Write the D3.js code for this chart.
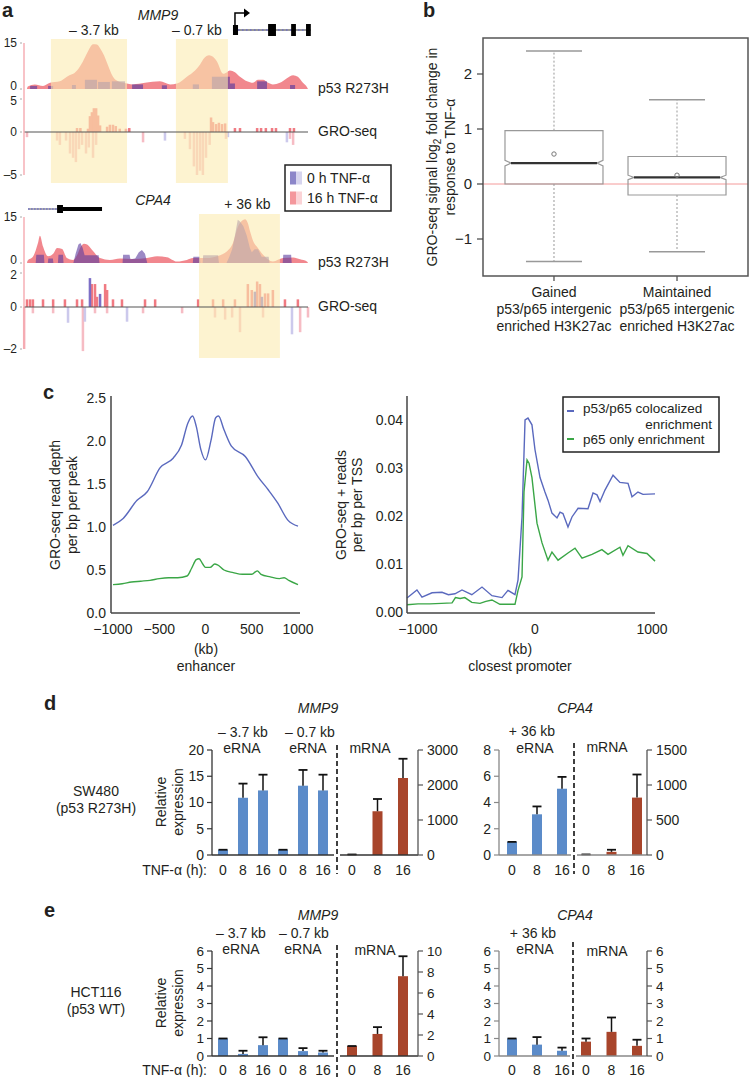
<!DOCTYPE html>
<html><head><meta charset="utf-8">
<script src="https://cdn.jsdelivr.net/npm/d3@7"></script>
<style>
body{margin:0;background:#fff}
svg{display:block}
text{font-family:"Liberation Sans",Arial,Helvetica,sans-serif;}
</style>
</head><body>
<svg id="fig" width="749" height="1077"></svg>
<script>
// ================= DATA =================
// ---- Panel a (genomic bins 0-100 across each browser window) ----
const mmp9P53_16h = [[0,0],[0.3,0.8],[2.8,1.5],[5.7,1.0],[8.2,2.0],[11.7,2.5],[14.2,4.0],[17.8,6.0],[19.9,9],[21.4,11.7],[23.5,14.6],[24.9,14.5],[26,13.3],[27.4,11],[28.5,8.5],[30.6,4.0],[32.4,2.5],[34.2,2.0],[37.7,1.5],[42,2.0],[47.3,2.5],[50.9,1.5],[53.4,1.8],[56.9,4],[59.8,6],[61.6,8],[63,10],[64.8,11],[66.2,10.5],[67.6,9],[69.8,5],[71.2,5.5],[72.2,6],[74,5.5],[75.8,4],[78.3,2.5],[80.4,2],[82.2,3],[84,3],[85.8,2],[87.5,1.5],[90,2],[92.5,3.5],[94.7,4.5],[96.4,4],[98.2,2],[99.7,0.5],[100,0]];
const mmp9P53_0h = [[1.1,3.6,1.0],[7.5,9.3,1.0],[16,17.4,1.3],[20.6,24.9,3.0],[25.3,29.5,2.3],[30.2,34.9,2.5],[37.4,41.3,1.5],[48,49.8,1.2],[59,61.2,1.5],[65.8,72.2,4.0],[72.2,74,1.8],[81.9,85.4,2.5],[93.6,95.4,1.3]];
const mmp9Gro_16h = [[17.8,0.6],[19,0.6],[21.7,0.5],[22.4,2.4],[23.1,3.0],[23.8,3.6],[24.6,3.6],[25.3,2.5],[26,1.0],[28.5,0.8],[29.5,1.1],[30.6,1.1],[31.6,0.9],[33,0.5],[35.2,0.5],[36.4,0.6],[65.5,2.2],[66.2,1.5],[67.3,1.2],[68.3,1.4],[69.4,1.2],[70.5,1.3],[74,0.6],[75.8,0.6],[81.9,0.6],[83.3,0.6],[85,0.6],[87.2,0.6],[88.6,0.6],[93.6,0.6],[95,0.6],
  [0,-0.6],[10.7,-1.0],[11.7,-1.5],[13.9,-1.0],[15.3,-2.5],[16.4,-3.0],[17.4,-3.5],[18.5,-2.0],[19.6,-1.5],[21,-2.5],[22,-1.8],[23.5,-3.0],[24.6,-1.5],[41.3,-1.2],[56.2,-0.8],[58,-2.0],[59.4,-4.0],[60.5,-5.0],[61.6,-4.5],[62.6,-5.0],[63.7,-3.0],[65,-1.5],[70.8,-0.8],[93.6,-0.8],[94.7,-1.5]];
const mmp9Gro_0h = [[49.1,-1.0],[71.5,-0.6],[92.5,-1.2]];
const mmp9Regions = [{label:"\u2013 3.7 kb", start:8.5, end:35.6},{label:"\u2013 0.7 kb", start:53, end:71.5}];
const mmp9Exons = [[73.3,75.1],[85.8,88.6],[94,95.7],[99.3,101]];

const cpa4P53_16h = [[0,0],[0.2,0.7],[2.1,2],[3.9,6.5],[4.6,8.9],[5.7,5.4],[7.5,2.2],[9.3,3.0],[10.7,4.9],[12.5,4.6],[14.2,1.6],[16.4,1.0],[17.8,2.5],[18.9,4.9],[20.3,6.3],[21.4,6.0],[23.1,4.3],[26,1.6],[29.5,1.0],[33.1,1.5],[37.7,1.3],[42.7,1.6],[46.3,2.2],[49.8,1.9],[53.4,0.5],[56.9,1.0],[59.1,1.6],[64.1,1.6],[67.6,2.2],[71.2,3.8],[73.3,6.5],[75.1,11.9],[76.5,13.8],[77.6,14.3],[78.6,13],[79.4,10.3],[80.8,6.5],[81.9,5.2],[84,2.7],[87.5,0.5],[91.1,1.6],[94.7,1.8],[97.2,1.2],[99.6,0.5],[100,0]];
const cpa4P53_0h = [[0,0],[3.1,0],[3.3,2.7],[6.0,2.7],[6.2,0],[7.4,0],[7.6,1.5],[9.2,1.5],[9.4,0],[11,0],[11.2,2.7],[12.8,2.7],[13,0],[16.5,0],[17.3,3],[18.3,6],[19,6.5],[19.8,5],[20.5,2.5],[25.5,2.5],[25.8,0],[34,0],[34.2,2.7],[36.5,2.7],[36.8,1.2],[38.5,1.5],[39.8,3.5],[40.9,4.2],[42,3],[42.8,0],[59,0],[59.2,2],[61.5,2],[61.7,0],[62.5,0],[62.7,2.5],[68,2.5],[68.3,0],[71,0],[72,2],[73,4.5],[74,9],[75,14.1],[75.8,13.5],[77,12],[78.2,9],[79.3,5],[80,3.5],[81,4.5],[82.2,4.5],[83,3],[83.5,2],[86,2],[86.3,0],[91,0],[91.2,2.7],[94,2.7],[94.2,0],[100,0]];
const cpa4Gro_16h = [[0,0.45],[1.1,0.45],[2.1,0.45],[5.7,0.45],[9.3,0.45],[13.5,0.45],[17.8,0.45],[19.6,0.45],[23.1,1.35],[24.2,1.35],[24.9,0.6],[27.8,1.35],[28.5,1.0],[30.6,0.45],[33.8,0.45],[42,0.45],[45.6,0.45],[60.9,0.45],[66.2,0.45],[69.8,0.45],[74,0.45],[78.6,1.35],[80,1.0],[81.9,1.5],[82.9,1.35],[84.7,0.8],[85.8,0.8],[87.5,1.0],[91.8,0.45],[96.4,0.45],
  [-1,-2.0],[19.9,-2.1],[2.1,-0.3],[9.3,-0.3],[24.2,-0.3],[28.5,-0.3],[41.3,-0.3],[55.2,-0.3],[66.9,-0.5],[70.5,-0.6],[73,-0.5],[75.8,-1.2],[84,-0.5],[97.2,-1.2],[100,-0.5]];
const cpa4Gro_0h = [[22.4,1.7],[26,0.77],[81.1,0.9],[83.6,0.6],[14.6,-0.75],[20.6,-0.7],[35.6,-0.7],[94.3,-1.3]];
const cpa4Regions = [{label:"+ 36 kb", start:61.2, end:90}];
const cpa4Gene = {dotted:[0.4,10.7], box:[10.7,12.8], thick:[12.8,26.7]};
const legendA = ["0 h TNF-\u03b1","16 h TNF-\u03b1"];

// ---- Panel b (box plot) ----
const boxCats = ["Gained","Maintained"];
const boxCatLine2 = "p53/p65 intergenic", boxCatLine3 = "enriched H3K27ac";
const boxMin = [-1.41,-1.23], boxQ1 = [0.0,-0.2], boxMed = [0.38,0.12], boxQ3 = [0.97,0.5], boxMax = [2.42,1.53];
const boxMean = [0.545,0.16], boxNotchLo = [0.33,0.08], boxNotchHi = [0.43,0.16];
const boxTicks = [-1,0,1,2];

// ---- Panel c ----
const enhKb = [-1000,-890,-740,-630,-490,-350,-260,-190,-140,-100,-50,0,60,110,140,200,280,430,570,680,780,890,1000];
const enhColoc = [1.02,1.10,1.31,1.41,1.69,1.80,1.95,2.21,2.29,2.17,1.90,1.78,2.01,2.27,2.29,2.13,1.94,1.82,1.58,1.43,1.28,1.08,1.01];
const enhKb2 = [-1000,-900,-800,-700,-600,-500,-400,-300,-200,-150,-100,-70,-30,0,50,100,130,200,300,400,500,560,600,700,800,850,900,1000];
const enhP65 = [0.33,0.34,0.36,0.37,0.38,0.40,0.41,0.41,0.43,0.52,0.62,0.63,0.57,0.53,0.53,0.57,0.56,0.50,0.47,0.45,0.45,0.49,0.45,0.42,0.40,0.41,0.38,0.33];
const proKbB = [-1094,-1009,-966,-880,-795,-740,-684,-624,-540,-453,-368,-282,-231,-171,-145,-111,-85,-60,-26,0,43,85,111,145,188,214,239,282,316,368,453,496,530,556,598,667,726,795,829,880,923,1026];
const proColoc = [0.0029,0.0046,0.0031,0.0040,0.0041,0.0036,0.0038,0.0046,0.0036,0.0052,0.0034,0.0030,0.0045,0.0036,0.0067,0.0198,0.0400,0.0404,0.0390,0.0338,0.0280,0.0250,0.0233,0.0206,0.0196,0.0208,0.0205,0.0177,0.0198,0.0216,0.0215,0.0248,0.0244,0.0230,0.0254,0.0285,0.0270,0.0268,0.0240,0.0250,0.0245,0.0246];
const proKbG = [-1094,-1000,-900,-800,-709,-680,-640,-600,-540,-470,-420,-368,-300,-230,-171,-145,-111,-94,-68,-51,-26,17,60,111,145,197,282,342,402,487,572,624,726,752,795,880,957,1026];
const proP65 = [0.0015,0.0017,0.0017,0.0018,0.0019,0.0030,0.0028,0.0030,0.0020,0.0018,0.0022,0.0025,0.0016,0.0016,0.0016,0.0045,0.0073,0.0250,0.0317,0.0310,0.0280,0.0185,0.0144,0.0108,0.0125,0.0108,0.0123,0.0133,0.0112,0.0120,0.0130,0.0120,0.0135,0.0118,0.0138,0.0125,0.0122,0.0106];
const enhTicksX = [-1000,-500,0,500,1000], enhTicksY = [0,0.5,1.0,1.5,2.0,2.5];
const proTicksX = [-1000,0,1000], proTicksY = [0,0.01,0.02,0.03,0.04];

// ---- Panels d / e (qRT-PCR) ----
const timeLabels = ["0","8","16"];
const dMMP9_e37 = [1.0,10.9,12.3],  dMMP9_e37_err = [1.0,13.6,15.3];
const dMMP9_e07 = [1.0,13.2,12.3],  dMMP9_e07_err = [1.0,16.2,15.3];
const dMMP9_m   = [15,1250,2200],   dMMP9_m_err   = [15,1600,2750];
const dCPA4_e   = [1.0,3.1,5.05],   dCPA4_e_err   = [1.0,3.7,5.95];
const dCPA4_m   = [8,45,820],       dCPA4_m_err   = [8,75,1150];
const eMMP9_e37 = [1.0,0.12,0.62],  eMMP9_e37_err = [1.0,0.3,1.07];
const eMMP9_e07 = [1.0,0.28,0.2],   eMMP9_e07_err = [1.0,0.45,0.3];
const eMMP9_m   = [0.95,2.1,7.6],   eMMP9_m_err   = [0.95,2.75,9.5];
const eCPA4_e   = [1.0,0.65,0.3],   eCPA4_e_err   = [1.0,1.08,0.48];
const eCPA4_m   = [0.82,1.38,0.58], eCPA4_m_err   = [1.0,2.2,0.93];
const dTicksMMP9L = [0,5,10,15,20], dTicksMMP9R = [0,1000,2000,3000];
const dTicksCPA4L = [0,2,4,6,8], dTicksCPA4R = [0,500,1000,1500];
const eTicksMMP9L = [0,1,2,3,4,5,6], eTicksMMP9R = [0,2,4,6,8,10];
const eTicksCPA4L = [0,1,2,3,4,5,6], eTicksCPA4R = [0,1,2,3,4,5,6];

// ================= DRAWING =================
const svg = d3.select('#fig');
const INK = '#231f20';
function T(g, x, y, s, o = {}) {
  const t = g.append('text').attr('x', x).attr('y', y).attr('dy', '0.35em')
    .attr('font-size', o.fs || 14).attr('text-anchor', o.anchor || 'start')
    .attr('fill', o.fill || INK).text(s);
  if (o.italic) t.attr('font-style', 'italic');
  if (o.bold) t.attr('font-weight', 'bold');
  return t;
}
function line(g, x1, y1, x2, y2, stroke, w, dash) {
  const l = g.append('line').attr('x1', x1).attr('y1', y1).attr('x2', x2).attr('y2', y2)
    .attr('stroke', stroke).attr('stroke-width', w || 1);
  if (dash) l.attr('stroke-dasharray', dash);
  return l;
}

// ---------- Panel a ----------
const gA = svg.append('g');
T(gA, 2, 10, 'a', {fs: 20, bold: true});
const ax = d3.scaleLinear().domain([0, 100]).range([27, 308]);
const binW = ax(1) - ax(0);
const PINK = '#f07a82', PURPLE = '#5a3a9e';

function drawBrowser(g, cfg) {
  const yP = d3.scaleLinear().domain([0, 15]).range([cfg.p53Base, cfg.p53Top]);
  const yG = d3.scaleLinear().domain(cfg.groDom).range(cfg.groRange);
  const area = d3.area().x(d => ax(d[0])).y0(cfg.p53Base).y1(d => yP(d[1]));
  g.append('path').datum(cfg.p16).attr('d', area.curve(d3.curveMonotoneX)).attr('fill', PINK).attr('fill-opacity', 0.9);
  if (cfg.p0blocks) {
    g.selectAll(null).data(cfg.p0blocks).enter().append('rect')
      .attr('x', d => ax(d[0])).attr('width', d => ax(d[1]) - ax(d[0]))
      .attr('y', d => yP(d[2])).attr('height', d => cfg.p53Base - yP(d[2]))
      .attr('fill', PURPLE).attr('fill-opacity', 0.65);
  } else {
    g.append('path').datum(cfg.p0).attr('d', d3.area().x(d => ax(d[0])).y0(cfg.p53Base).y1(d => yP(d[1])).curve(d3.curveLinear))
      .attr('fill', PURPLE).attr('fill-opacity', 0.6);
  }
  const z = yG(0);
  g.selectAll(null).data(cfg.g16).enter().append('rect')
    .attr('x', d => ax(d[0]) - binW * 0.45).attr('width', binW * 0.9)
    .attr('y', d => Math.min(z, yG(d[1]))).attr('height', d => Math.abs(yG(d[1]) - z))
    .attr('fill', d => d[1] > 0 ? PINK : '#f6bcc4');
  g.selectAll(null).data(cfg.g0).enter().append('rect')
    .attr('x', d => ax(d[0]) - binW * 0.45).attr('width', binW * 0.9)
    .attr('y', d => Math.min(z, yG(d[1]))).attr('height', d => Math.abs(yG(d[1]) - z))
    .attr('fill', d => d[1] > 0 ? '#6f5fc0' : '#c7c3ea').attr('fill-opacity', 0.9);
  // highlight overlays
  cfg.regions.forEach(r => {
    g.append('rect').attr('x', ax(r.start)).attr('width', ax(r.end) - ax(r.start))
      .attr('y', cfg.hl[0]).attr('height', cfg.hl[1] - cfg.hl[0])
      .attr('fill', 'rgb(252,235,177)').attr('fill-opacity', 0.6);
    T(g, ax(r.start) + (ax(r.end) - ax(r.start)) / 2 + (r.dx || 0), cfg.labY, r.label, {anchor: 'middle'});
  });
  line(g, ax(-1), z, ax(100), z, '#555', 1.2);
  // axis
  line(g, 24, cfg.p53Top, 24, cfg.groRange[0], '#f4a3aa', 1.3);
  const ticks = [[15, yP(15), yP(15)], [0, yP(0), yP(0) - 3], [cfg.groDom[2], yG(cfg.groDom[2]), yG(cfg.groDom[2]) + 2], [0, z, z], [cfg.groDom[0], yG(cfg.groDom[0]), yG(cfg.groDom[0])]];
  ticks.forEach(t => {
    T(g, 17, t[2], t[0] < 0 ? '\u2013' + Math.abs(t[0]) : String(t[0]), {anchor: 'end', fs: 12});
    line(g, 20, t[1], 22, t[1], '#aaa', 1);
  });
  T(g, 318, cfg.p53Base - 1, 'p53 R273H');
  T(g, 318, z - 1, 'GRO-seq');
}

drawBrowser(gA, {p53Base: 89, p53Top: 43, groDom: [-5, 0, 5], groRange: [175, 132, 99],
  p16: mmp9P53_16h, p0blocks: mmp9P53_0h, g16: mmp9Gro_16h, g0: mmp9Gro_0h,
  regions: mmp9Regions.map((r, i) => Object.assign({dx: i === 0 ? 5 : -5}, r)), hl: [39, 183], labY: 30});
drawBrowser(gA, {p53Base: 263, p53Top: 217, groDom: [-2, 0, 2], groRange: [349, 307, 273],
  p16: cpa4P53_16h, p0: cpa4P53_0h, g16: cpa4Gro_16h, g0: cpa4Gro_0h,
  regions: cpa4Regions.map(r => Object.assign({dx: 8}, r)), hl: [214, 358], labY: 204});

// MMP9 gene model
T(gA, 158, 15, 'MMP9', {anchor: 'middle', italic: true});
line(gA, ax(mmp9Exons[0][0]), 30, ax(mmp9Exons[3][1]), 30, '#333', 1);
line(gA, ax(mmp9Exons[0][1]), 30, ax(mmp9Exons[3][0]), 30, '#7070c8', 1.5, '1.5,2.5');
mmp9Exons.forEach((e, i) => gA.append('rect').attr('x', ax(e[0])).attr('width', ax(e[1]) - ax(e[0]))
  .attr('y', i === 0 ? 25 : 24).attr('height', i === 0 ? 10 : 12).attr('fill', '#000'));
const tssX = ax(mmp9Exons[0][0]) + 2;
gA.append('path').attr('d', `M${tssX},27 V13 H${tssX + 10}`).attr('fill', 'none').attr('stroke', '#000').attr('stroke-width', 1.5);
gA.append('path').attr('d', `M${tssX + 9},8.5 L${tssX + 15},13 L${tssX + 9},17.5 Z`).attr('fill', '#000');
// CPA4 gene model
T(gA, 153, 200, 'CPA4', {anchor: 'middle', italic: true});
line(gA, ax(cpa4Gene.dotted[0]), 209, ax(cpa4Gene.dotted[1]), 209, '#333', 0.8);
line(gA, ax(cpa4Gene.dotted[0]), 209, ax(cpa4Gene.dotted[1]), 209, '#7070c8', 1.4, '1.5,1.5');
gA.append('rect').attr('x', ax(cpa4Gene.box[0])).attr('width', ax(cpa4Gene.box[1]) - ax(cpa4Gene.box[0])).attr('y', 205).attr('height', 8).attr('fill', '#000');
gA.append('rect').attr('x', ax(cpa4Gene.thick[0])).attr('width', ax(cpa4Gene.thick[1]) - ax(cpa4Gene.thick[0])).attr('y', 207).attr('height', 4).attr('fill', '#000');

// legend a
gA.append('rect').attr('x', 285).attr('y', 165).attr('width', 106).attr('height', 46).attr('fill', '#fff').attr('stroke', '#222').attr('stroke-width', 1.5);
[[['#8c86c9', '#d6d4ee'], 178], [['#f4979c', '#fbd3d6'], 198]].forEach((s, i) => {
  gA.append('rect').attr('x', 290).attr('y', s[1] - 6.5).attr('width', 6).attr('height', 13).attr('fill', s[0][0]);
  gA.append('rect').attr('x', 296).attr('y', s[1] - 6.5).attr('width', 6).attr('height', 13).attr('fill', s[0][1]);
  T(gA, 307, s[1], legendA[i]);
});

// ---------- Panel b ----------
const gB = svg.append('g');
T(gB, 423, 10, 'b', {fs: 20, bold: true});
const bY = d3.scaleLinear().domain([-1, 2]).range([239, 74]);
const bX = d3.scalePoint().domain(boxCats).range([483, 748]).padding(0.577);
const frame = {x0: 483, x1: 748, y0: 38, y1: 276};
line(gB, frame.x0, bY(0), frame.x1, bY(0), '#f49a9a', 1);
boxCats.forEach((c, i) => {
  const cx = bX(c), hw = 49, n = 6;
  const x0 = cx - hw, x1 = cx + hw;
  line(gB, cx, bY(boxQ3[i]), cx, bY(boxMax[i]), '#999', 1, '2,2');
  line(gB, cx, bY(boxQ1[i]), cx, bY(boxMin[i]), '#999', 1, '2,2');
  line(gB, cx - 28, bY(boxMax[i]), cx + 28, bY(boxMax[i]), '#999', 1.5);
  line(gB, cx - 28, bY(boxMin[i]), cx + 28, bY(boxMin[i]), '#999', 1.5);
  const pts = [[x0, boxQ3[i]], [x1, boxQ3[i]], [x1, boxNotchHi[i]], [x1 - n, boxMed[i]], [x1, boxNotchLo[i]], [x1, boxQ1[i]],
    [x0, boxQ1[i]], [x0, boxNotchLo[i]], [x0 + n, boxMed[i]], [x0, boxNotchHi[i]]];
  gB.append('path').attr('d', 'M' + pts.map(p => p[0] + ',' + bY(p[1])).join('L') + 'Z')
    .attr('fill', 'none').attr('stroke', '#999').attr('stroke-width', 1.2);
  line(gB, x0 + n, bY(boxMed[i]), x1 - n, bY(boxMed[i]), '#333', 2.2);
  gB.append('circle').attr('cx', cx).attr('cy', bY(boxMean[i])).attr('r', 2.2).attr('fill', 'none').attr('stroke', '#777').attr('stroke-width', 1);
  line(gB, cx, frame.y1, cx, frame.y1 + 5, '#444', 1.2);
  T(gB, cx, 292, c, {anchor: 'middle'});
  T(gB, cx, 309, boxCatLine2, {anchor: 'middle'});
  T(gB, cx, 326, boxCatLine3, {anchor: 'middle'});
});
gB.append('rect').attr('x', frame.x0).attr('y', frame.y0).attr('width', frame.x1 - frame.x0).attr('height', frame.y1 - frame.y0)
  .attr('fill', 'none').attr('stroke', '#555').attr('stroke-width', 1.5);
boxTicks.forEach(t => {
  line(gB, frame.x0 - 6, bY(t), frame.x0, bY(t), '#444', 1.2);
  T(gB, 472, bY(t), t < 0 ? '\u2212' + Math.abs(t) : String(t), {anchor: 'end', fs: 15});
});
const bt = gB.append('g').attr('transform', 'translate(432,157) rotate(-90)');
const bt1 = bt.append('text').attr('text-anchor', 'middle').attr('font-size', 14).attr('fill', INK).attr('dy', '0.35em');
bt1.append('tspan').text('GRO-seq signal log');
bt1.append('tspan').attr('font-size', 10).attr('dy', 4).text('2');
bt1.append('tspan').attr('dy', -4).text(' fold change in');
bt.append('text').attr('text-anchor', 'middle').attr('font-size', 14).attr('fill', INK).attr('y', 18).attr('dy', '0.35em').text('response to TNF-\u03b1');

// ---------- Panel c ----------
const gC = svg.append('g');
T(gC, 43, 392, 'c', {fs: 20, bold: true});
const BLUE = '#5a69be', GREEN = '#3aa646';
const cxL = d3.scaleLinear().domain([-1000, 1000]).range([113, 298]);
const cyL = d3.scaleLinear().domain([0, 2.5]).range([613, 398]);
const lnL = d3.line().x(d => cxL(d[0])).y(d => cyL(d[1])).curve(d3.curveMonotoneX);
gC.append('path').attr('d', lnL(d3.zip(enhKb, enhColoc))).attr('fill', 'none').attr('stroke', BLUE).attr('stroke-width', 1.4);
gC.append('path').attr('d', lnL(d3.zip(enhKb2, enhP65))).attr('fill', 'none').attr('stroke', GREEN).attr('stroke-width', 1.4);
line(gC, 111, 396, 111, 613, '#444', 1.5);
line(gC, 111, 613, 300, 613, '#444', 1.5);
enhTicksY.forEach(t => T(gC, 106, cyL(t), d3.format('.1f')(t), {anchor: 'end'}));
enhTicksX.forEach(t => T(gC, cxL(t), 629, t < 0 ? '\u2212' + Math.abs(t) : String(t), {anchor: 'middle'}));
T(gC, 206, 649, '(kb)', {anchor: 'middle'});
T(gC, 206, 666, 'enhancer', {anchor: 'middle'});
const ct1 = gC.append('g').attr('transform', 'translate(55,505) rotate(-90)');
ct1.append('text').attr('text-anchor', 'middle').attr('font-size', 14).attr('fill', INK).attr('dy', '0.35em').text('GRO-seq read depth');
ct1.append('text').attr('text-anchor', 'middle').attr('font-size', 14).attr('fill', INK).attr('y', 17).attr('dy', '0.35em').text('per bp per peak');

const cxR = d3.scaleLinear().domain([-1000, 1000]).range([418, 652]);
const cyR = d3.scaleLinear().domain([0, 0.04]).range([612, 420]);
const lnR = d3.line().x(d => cxR(d[0])).y(d => cyR(d[1]));
gC.append('path').attr('d', lnR(d3.zip(proKbB, proColoc))).attr('fill', 'none').attr('stroke', BLUE).attr('stroke-width', 1.4);
gC.append('path').attr('d', lnR(d3.zip(proKbG, proP65))).attr('fill', 'none').attr('stroke', GREEN).attr('stroke-width', 1.4);
line(gC, 407, 396, 407, 613, '#444', 1.5);
line(gC, 407, 613, 655, 613, '#444', 1.5);
proTicksY.forEach(t => T(gC, 403, cyR(t), d3.format('.2f')(t), {anchor: 'end'}));
proTicksX.forEach(t => T(gC, cxR(t), 629, t < 0 ? '\u2212' + Math.abs(t) : String(t), {anchor: 'middle'}));
T(gC, 520, 649, '(kb)', {anchor: 'middle'});
T(gC, 520, 666, 'closest promoter', {anchor: 'middle'});
const ct2 = gC.append('g').attr('transform', 'translate(341,505) rotate(-90)');
ct2.append('text').attr('text-anchor', 'middle').attr('font-size', 14).attr('fill', INK).attr('dy', '0.35em').text('GRO-seq + reads');
ct2.append('text').attr('text-anchor', 'middle').attr('font-size', 14).attr('fill', INK).attr('y', 16).attr('dy', '0.35em').text('per bp per TSS');
// legend c
gC.append('rect').attr('x', 563).attr('y', 397).attr('width', 156).attr('height', 55).attr('fill', '#fff').attr('stroke', '#222').attr('stroke-width', 1.5);
line(gC, 567, 411, 574, 411, BLUE, 2);
line(gC, 567, 439, 574, 439, GREEN, 2);
T(gC, 583, 408, 'p53/p65 colocalized', {fs: 13.5});
T(gC, 712, 424, 'enrichment', {anchor: 'end', fs: 13.5});
T(gC, 583, 439, 'p65 only enrichment', {fs: 13.5});

// ---------- Panels d & e ----------
const BARBLUE = '#5b8bc9', BARRED = '#a8452b';
function bars(g, xs, means, tops, y, color) {
  const w = 10;
  means.forEach((m, i) => {
    const x = xs(i);
    g.append('rect').attr('x', x - w / 2).attr('width', w).attr('y', y(m)).attr('height', y(0) - y(m)).attr('fill', color);
    if (tops[i] > m) line(g, x, y(m), x, y(tops[i]), '#111', 1.5);
    line(g, x - w / 2 + 0.5, y(tops[i]), x + w / 2 - 0.5, y(tops[i]), '#111', 1.8);
  });
}
function yAxis(g, x, y, ticks, side, color, fs) {
  line(g, x, y(ticks[ticks.length - 1]), x, y(0), color, 1.3);
  ticks.forEach(t => {
    line(g, x, y(t), x + (side === 'left' ? -5 : 5), y(t), color, 1.2);
    T(g, x + (side === 'left' ? -8 : 9), y(t), String(t), {anchor: side === 'left' ? 'end' : 'start', fs: fs || 14});
  });
}
function qpcr(g, c) {
  const yL = d3.scaleLinear().domain([0, c.ticksL[c.ticksL.length - 1]]).range([c.base, c.top]);
  const yR = d3.scaleLinear().domain([0, c.ticksR[c.ticksR.length - 1]]).range([c.base, c.top]);
  const xe = d3.scalePoint().domain(d3.range(c.eData.length * 3)).range(c.eRange);
  const xm = d3.scalePoint().domain(d3.range(3)).range(c.mRange);
  c.eData.forEach((d, k) => bars(g, i => xe(k * 3 + i), d[0], d[1], yL, BARBLUE));
  bars(g, i => xm(i), c.mData[0], c.mData[1], yR, BARRED);
  line(g, c.axL, c.base, c.dash - 3, c.base, c.axColor, 1.3);
  line(g, c.dash + 3, c.base, c.axR, c.base, c.axColor, 1.3);
  yAxis(g, c.axL, yL, c.ticksL, 'left', c.axColor, c.tickFs);
  yAxis(g, c.axR, yR, c.ticksR, 'right', '#555', c.tickFs);
  line(g, c.dash, c.dashY[0], c.dash, c.dashY[1], '#111', 1.6, '5,3');
  d3.range(c.eData.length * 3).forEach(i => T(g, xe(i), c.labY, timeLabels[i % 3], {anchor: 'middle'}));
  d3.range(3).forEach(i => T(g, xm(i), c.labY, timeLabels[i], {anchor: 'middle'}));
  T(g, c.geneX, c.geneY, c.gene, {anchor: 'middle', italic: true});
  c.eLabels.forEach(l => { T(g, l[0], l[1], l[2], {anchor: 'middle'}); });
}
function rowLabels(g, yMid, baseY, cell, gen, letter, letterY) {
  T(g, 44, letterY, letter, {fs: 20, bold: true});
  T(g, 96, yMid - 9, cell, {anchor: 'middle'});
  T(g, 96, yMid + 8, gen, {anchor: 'middle'});
  const rt = g.append('g').attr('transform', `translate(161,${baseY}) rotate(-90)`);
  rt.append('text').attr('text-anchor', 'middle').attr('font-size', 14).attr('fill', INK).attr('dy', '0.35em').text('Relative');
  rt.append('text').attr('text-anchor', 'middle').attr('font-size', 14).attr('fill', INK).attr('y', 17).attr('dy', '0.35em').text('expression');
}
const gD = svg.append('g');
rowLabels(gD, 800, 802, 'SW480', '(p53 R273H)', 'd', 703);
T(gD, 207, 870, 'TNF-\u03b1 (h):', {anchor: 'end'});
qpcr(gD, {base: 855, top: 750, ticksL: dTicksMMP9L, ticksR: dTicksMMP9R, eData: [[dMMP9_e37, dMMP9_e37_err], [dMMP9_e07, dMMP9_e07_err]],
  mData: [dMMP9_m, dMMP9_m_err], eRange: [223, 323], mRange: [352, 403], axL: 212, axR: 418, dash: 337, dashY: [745, 874],
  axColor: '#333', labY: 870, gene: 'MMP9', geneX: 318, geneY: 708,
  eLabels: [[243, 732, '\u2013 3.7 kb'], [310, 732, '\u2013 0.7 kb'], [242, 748, 'eRNA'], [308, 748, 'eRNA'], [370, 748, 'mRNA']]});
qpcr(gD, {base: 855, top: 750, ticksL: dTicksCPA4L, ticksR: dTicksCPA4R, eData: [[dCPA4_e, dCPA4_e_err]],
  mData: [dCPA4_m, dCPA4_m_err], eRange: [512, 562], mRange: [586, 637], axL: 499, axR: 647, dash: 574, dashY: [743, 874],
  axColor: '#888', labY: 870, gene: 'CPA4', geneX: 575, geneY: 708,
  eLabels: [[532, 731, '+ 36 kb'], [535, 748, 'eRNA'], [607, 747, 'mRNA']]});

const gE = svg.append('g');
rowLabels(gE, 1001, 1003, 'HCT116', '(p53 WT)', 'e', 910);
T(gE, 207, 1070, 'TNF-\u03b1 (h):', {anchor: 'end'});
qpcr(gE, {base: 1056, top: 951, ticksL: eTicksMMP9L, ticksR: eTicksMMP9R, eData: [[eMMP9_e37, eMMP9_e37_err], [eMMP9_e07, eMMP9_e07_err]],
  mData: [eMMP9_m, eMMP9_m_err], eRange: [223, 323], mRange: [352, 403], axL: 212, axR: 418, dash: 337, dashY: [945, 1077],
  axColor: '#333', labY: 1070, tickFs: 13.5, gene: 'MMP9', geneX: 318, geneY: 915,
  eLabels: [[241, 933, '\u2013 3.7 kb'], [304, 933, '\u2013 0.7 kb'], [241, 949, 'eRNA'], [303, 949, 'eRNA'], [375, 950, 'mRNA']]});
qpcr(gE, {base: 1056, top: 951, ticksL: eTicksCPA4L, ticksR: eTicksCPA4R, eData: [[eCPA4_e, eCPA4_e_err]],
  mData: [eCPA4_m, eCPA4_m_err], eRange: [512, 562], mRange: [586, 637], axL: 499, axR: 647, dash: 573, dashY: [942, 1077],
  axColor: '#888', labY: 1070, tickFs: 13.5, gene: 'CPA4', geneX: 575, geneY: 915,
  eLabels: [[533, 933, '+ 36 kb'], [535, 949, 'eRNA'], [607, 951, 'mRNA']]});
</script>
</body></html>
